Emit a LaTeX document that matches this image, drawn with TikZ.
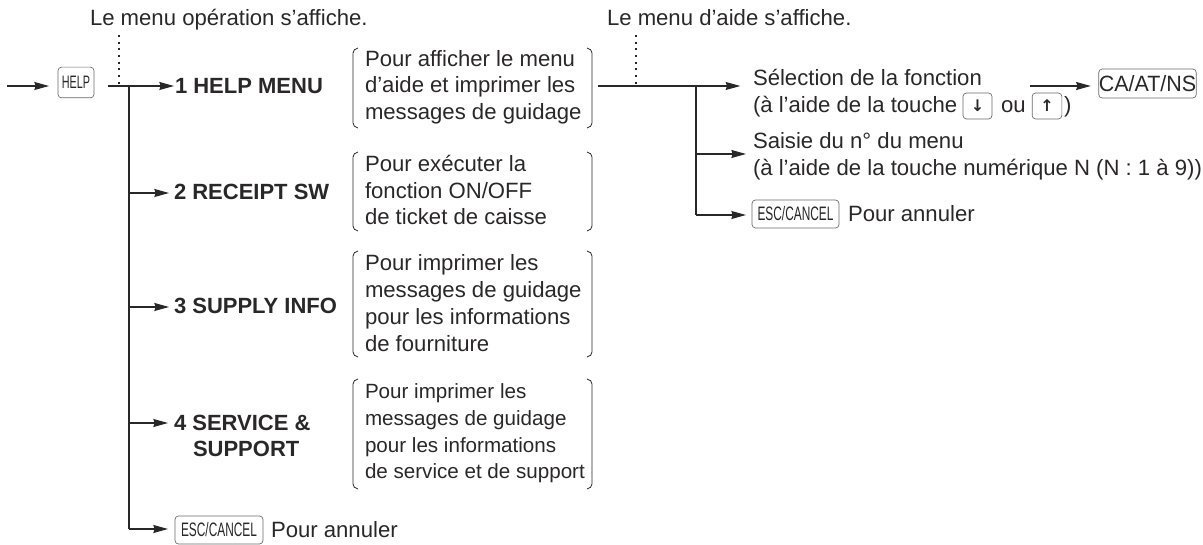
\documentclass[tikz,border=0pt]{standalone}
\usepackage{fontspec}
\setmainfont{Liberation Sans}
\newfontfamily\arrowfont{DejaVu Sans}
\usetikzlibrary{arrows.meta}
\definecolor{ink}{HTML}{2A2728}
\newcommand{\pxsize}[1]{\fontsize{#1}{#1}\selectfont}
\tikzset{
  x=0.75pt,y=-0.75pt,
  every node/.style={inner sep=0pt,outer sep=0pt,text=ink},
  txt/.style={anchor=base west,font=\pxsize{16.6}},
  txts/.style={anchor=base west,font=\pxsize{15.45}},
  menu/.style={anchor=base west,font=\pxsize{16.5}\bfseries},
  keycap/.style={draw=ink!70,line width=0.5pt,rounded corners=2.6pt,inner xsep=0pt},
  arrowkey/.style={keycap,minimum height=19.5pt,font=\arrowfont\bfseries\pxsize{12}},
  conn/.style={draw=ink,line width=0.85pt},
  arr/.style={conn,-{Stealth[length=11pt,width=6pt,inset=1pt]}},
  dots/.style={draw=ink,line width=0.8pt,dash pattern=on 1.6pt off 3.4pt},
  brace/.style={draw=ink,line width=0.6pt},
}
\newcommand{\narrowkey}[2]{\scalebox{#1}[1]{#2}}
\newcommand{\bracketpair}[4]{%
  \draw[brace] (#1+5,#3) .. controls (#1+2,#3+1) and (#1,#3+2) .. (#1,#3+5) -- (#1,#4-5) .. controls (#1,#4-2) and (#1+2,#4-1) .. (#1+5,#4);
  \draw[brace] (#2-5,#3) .. controls (#2-2,#3+1) and (#2,#3+2) .. (#2,#3+5) -- (#2,#4-5) .. controls (#2,#4-2) and (#2-2,#4-1) .. (#2-5,#4);}
\begin{document}
\begin{tikzpicture}
\useasboundingbox (0,0) rectangle (1203,545);
% headings
\node[txt] (h1) at (90,26) {Le menu opération s’affiche.};
\node[txt] (h2) at (607,26) {Le menu d’aide s’affiche.};
% help key
\coordinate (start) at (7,86);
\node[keycap,minimum width=27pt,minimum height=23pt,font=\pxsize{13.5}] (help) at (76,82.5) {\narrowkey{0.6}{HELP}};
\coordinate (t0) at (108,86);
\coordinate (j0) at (129,86);
\coordinate (d0) at (119,86);
\coordinate (d0t) at (119,35);
\node[menu] (m1) at (175,94) {1 HELP MENU};
\node[menu] (m2) at (174,200) {2 RECEIPT SW};
\node[menu] (m3) at (174,314) {3 SUPPLY INFO};
\node[menu] (m4) at (174,430) {4 SERVICE \&};
\node[menu] (m4b) at (193,456) {SUPPORT};
\node[keycap,minimum width=66pt,minimum height=21pt,font=\pxsize{14.6}] (esc1) at (219,530) {\narrowkey{0.61}{ESC/CANCEL}};
\node[txt] (esc1t) at (271,537) {Pour annuler};
\coordinate (j2) at (129,193);
\coordinate (j3) at (129,307);
\coordinate (j4) at (129,423);
\coordinate (j5) at (129,529);
\draw[arr,shorten >=6.75pt] (start) -- (help.west |- start);
\draw[arr,shorten >=0.75pt] (t0) -- (m1.west |- t0);
\draw[dots] (d0t) -- (d0);
\draw[conn] (j0) -- (j5);
\draw[arr,shorten >=3.75pt] (j2) -- (m2.west |- j2);
\draw[arr,shorten >=3.75pt] (j3) -- (m3.west |- j3);
\draw[arr,shorten >=4.5pt] (j4) -- (m4.west |- j4);
\draw[arr,shorten >=5.25pt] (j5) -- (esc1.west |- j5);
% descriptions
\node[txt] (d11) at (365,67) {Pour afficher le menu};
\node[txt] (d12) at (365,93) {d’aide et imprimer les};
\node[txt] (d13) at (365,120) {messages de guidage};
\node[txt] (d21) at (365,172) {Pour exécuter la};
\node[txt] (d22) at (365,199) {fonction ON/OFF};
\node[txt] (d23) at (365,225) {de ticket de caisse};
\node[txt] (d31) at (365,271) {Pour imprimer les};
\node[txt] (d32) at (365,298) {messages de guidage};
\node[txt] (d33) at (365,325) {pour les informations};
\node[txt] (d34) at (365,351) {de fourniture};
\node[txts] (d41) at (365,398) {Pour imprimer les};
\node[txts] (d42) at (365,425) {messages de guidage};
\node[txts] (d43) at (365,452) {pour les informations};
\node[txts] (d44) at (365,478) {de service et de support};
% brackets
\bracketpair{353}{592}{48}{128}
\bracketpair{353}{592}{152}{231}
\bracketpair{353}{592}{251}{357}
\bracketpair{353}{592}{379}{489}
% right part
\coordinate (t1) at (598,86);
\coordinate (j6) at (696,86);
\coordinate (d1) at (636,86);
\coordinate (d1t) at (636,35);
\coordinate (j7) at (696,154);
\coordinate (j8) at (696,215);
\node[txt] (s1) at (753,86) {Sélection de la fonction};
\node[txt] (s2) at (753,113) {(à l’aide de la touche};
\node[arrowkey,minimum width=21.75pt] (kd) at (977.5,106) {↓};
\node[txt] (ou) at (1001,113) {ou};
\node[arrowkey,minimum width=22.25pt] (ku) at (1047,106) {↑};
\node[txt] (cp) at (1064,113) {)};
\coordinate (a9s) at (1030,86);
\node[keycap,minimum width=72.75pt,minimum height=21.75pt,font=\pxsize{16.6}] (ca) at (1147.5,83.5) {\narrowkey{0.97}{CA/AT/NS}};
\draw[arr,shorten >=6pt] (a9s) -- (ca.west |- a9s);
\node[txt] (s3) at (753,149) {Saisie du n° du menu};
\node[txt] (s4) at (753,176) {(à l’aide de la touche numérique N (N : 1 à 9))};
\node[keycap,minimum width=65.25pt,minimum height=21pt,font=\pxsize{14.6}] (esc2) at (795.5,214) {\narrowkey{0.61}{ESC/CANCEL}};
\node[txt] (esc2t) at (848,222) {Pour annuler};
\draw[arr,shorten >=9.5pt] (t1) -- (s1.west |- t1);
\draw[dots] (d1t) -- (d1);
\draw[conn] (j6) -- (j8);
\draw[arr,shorten >=5.25pt] (j7) -- (s3.west |- j7);
\draw[arr,shorten >=4.5pt] (j8) -- (esc2.west |- j8);
\end{tikzpicture}
\end{document}
